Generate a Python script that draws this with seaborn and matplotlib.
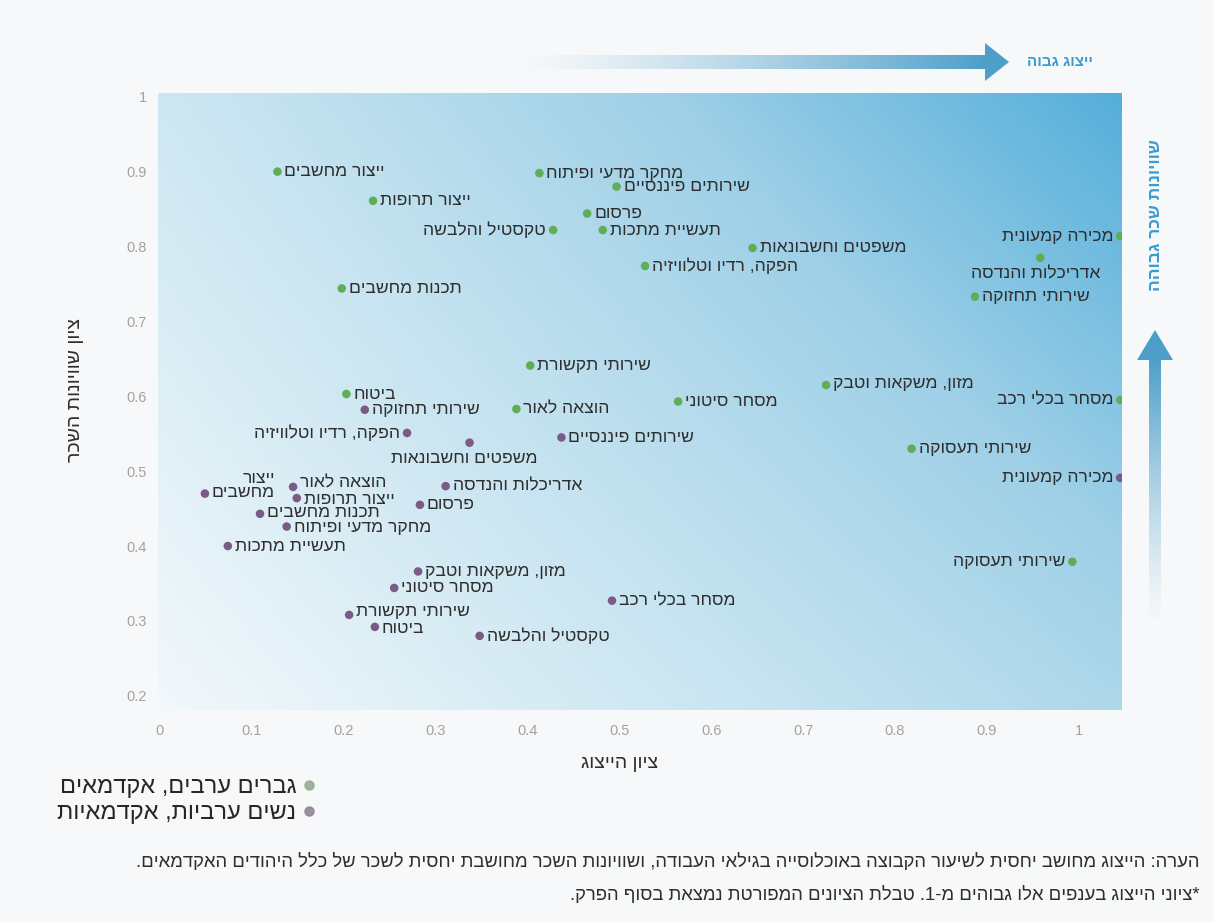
import numpy as np
import pandas as pd
import matplotlib
matplotlib.use("Agg")
import matplotlib.pyplot as plt
import seaborn as sns
from matplotlib.colors import LinearSegmentedColormap, to_rgb
from matplotlib.lines import Line2D
from matplotlib.patches import Polygon

# ---------------- data ----------------
men_labels = ["ייצור מחשבים", "מחקר מדעי ופיתוח", "שירותים פיננסיים", "ייצור תרופות",
              "פרסום", "טקסטיל והלבשה", "תעשיית מתכות", "משפטים וחשבונאות",
              "הפקה, רדיו וטלוויזיה", "מכירה קמעונית", "אדריכלות והנדסה", "שירותי תחזוקה",
              "תכנות מחשבים", "שירותי תקשורת", "ביטוח", "הוצאה לאור", "מסחר סיטוני",
              "מזון, משקאות וטבק", "מסחר בכלי רכב", "שירותי תעסוקה", "שירותי תעסוקה"]
men_x = [0.128, 0.413, 0.497, 0.232, 0.465, 0.428, 0.482, 0.645, 0.528, 1.045, 0.958, 0.887,
         0.198, 0.403, 0.203, 0.388, 0.564, 0.725, 1.045, 0.818, 0.993]
men_y = [0.900, 0.898, 0.880, 0.861, 0.844, 0.822, 0.822, 0.798, 0.774, 0.814, 0.785, 0.733,
         0.744, 0.641, 0.603, 0.583, 0.593, 0.615, 0.595, 0.530, 0.379]

women_labels = ["שירותי תחזוקה", "הפקה, רדיו וטלוויזיה", "משפטים וחשבונאות", "שירותים פיננסיים",
                "אדריכלות והנדסה", "ייצור\nמחשבים", "הוצאה לאור", "ייצור תרופות", "פרסום",
                "תכנות מחשבים", "מחקר מדעי ופיתוח", "תעשיית מתכות", "מזון, משקאות וטבק",
                "מסחר סיטוני", "מסחר בכלי רכב", "שירותי תקשורת", "ביטוח", "טקסטיל והלבשה",
                "מכירה קמעונית"]
women_x = [0.223, 0.269, 0.337, 0.437, 0.311, 0.049, 0.145, 0.149, 0.283, 0.109, 0.138, 0.074,
           0.281, 0.255, 0.492, 0.206, 0.234, 0.348, 1.045]
women_y = [0.582, 0.551, 0.538, 0.545, 0.480, 0.470, 0.479, 0.464, 0.455, 0.443, 0.426, 0.400,
           0.366, 0.344, 0.327, 0.308, 0.292, 0.280, 0.491]

series_names = ["גברים ערבים, אקדמאים", "נשים ערביות, אקדמאיות"]
x_ticks = [0, 0.1, 0.2, 0.3, 0.4, 0.5, 0.6, 0.7, 0.8, 0.9, 1]
y_ticks = [0.2, 0.3, 0.4, 0.5, 0.6, 0.7, 0.8, 0.9, 1]
x_tick_labels = ["0", "0.1", "0.2", "0.3", "0.4", "0.5", "0.6", "0.7", "0.8", "0.9", "1"]
y_tick_labels = ["0.2", "0.3", "0.4", "0.5", "0.6", "0.7", "0.8", "0.9", "1"]

x_title = "ציון הייצוג"
y_title = "ציון שוויונות השכר"
top_note = "ייצוג גבוה"
right_note = "שוויונות שכר גבוהה"
foot1 = "הערה: הייצוג מחושב יחסית לשיעור הקבוצה באוכלוסייה בגילאי העבודה, ושוויונות השכר מחושבת יחסית לשכר של כלל היהודים האקדמאים."
foot2 = "*ציוני הייצוג בענפים אלו גבוהים מ-1. טבלת הציונים המפורטת נמצאת בסוף הפרק."

# label placement (layout only)
men_place = ["r", "r", "r", "r", "r", "l", "r", "r", "r", "l", "b", "r",
             "r", "r", "r", "r", "r", "r", "l", "r", "l"]
women_place = ["r", "l", "b", "r", "r", "r2", "r", "r", "r", "r", "r", "r",
               "r", "r", "r", "r", "r", "r", "l"]
# small vertical nudges (pixels) for crowded labels, by women index
women_nudge = {6: 4, 7: -1, 9: 1, 10: -1, 15: 3, 16: -2}
men_nudge = {17: 2}


def rtl(s):
    return "\n".join(line[::-1] for line in s.split("\n"))


# ---------------- style ----------------
sns.set_theme(style="white")
plt.rcParams["font.family"] = ["Liberation Sans", "DejaVu Sans"]

W, H = 1214, 922
fig = plt.figure(figsize=(W / 100, H / 100), dpi=100)
bg = "#f6f8f9"
fig.patch.set_facecolor(bg)

ax_l, ax_r, ax_t, ax_b = 158, 1122, 93, 710
ax = fig.add_axes([ax_l / W, 1 - ax_b / H, (ax_r - ax_l) / W, (ax_b - ax_t) / H])
ax.set_xlim(-0.002, 1.047)
ax.set_ylim(0.181, 1.005)

# gradient panel
cmap = LinearSegmentedColormap.from_list("panel", ["#f2f8fb", "#c9e5f1", "#9fd0e7", "#55afdb"])
xx, yy = np.meshgrid(np.linspace(0, 1, 300), np.linspace(0, 1, 200))
t = 0.55 * xx + 0.3 * yy + 0.15 * xx * yy
ax.imshow(t, cmap=cmap, extent=[0, 1, 0, 1], transform=ax.transAxes, origin="lower",
          aspect="auto", zorder=0, vmin=0, vmax=1)

green = "#5fae57"
purple = "#7b5b86"

df = pd.DataFrame({
    "x": men_x + women_x,
    "y": men_y + women_y,
    "group": [series_names[0]] * len(men_x) + [series_names[1]] * len(women_x),
})
sns.scatterplot(data=df, x="x", y="y", hue="group", palette=[green, purple], s=38,
                edgecolor="none", ax=ax, zorder=3, legend=False)

label_kw = dict(fontsize=12.6, color="#2e2e2e", zorder=4, textcoords="offset pixels")


def place(lbl, x, y, mode, dy=0):
    if mode == "r":
        ax.annotate(rtl(lbl), (x, y), xytext=(7, dy), ha="left", va="center", **label_kw)
    elif mode == "l":
        ax.annotate(rtl(lbl), (x, y), xytext=(-7, dy), ha="right", va="center", **label_kw)
    elif mode == "b":
        ax.annotate(rtl(lbl), (x, y), xytext=(-5, -16 + dy), ha="center", va="center", **label_kw)
    elif mode == "r2":
        ax.annotate(rtl(lbl), (x, y), xytext=(7, 8 + dy), ha="left", va="center",
                    multialignment="right", linespacing=0.9, **label_kw)


for i, (lbl, x, y, m) in enumerate(zip(men_labels, men_x, men_y, men_place)):
    place(lbl, x, y, m, men_nudge.get(i, 0))
for i, (lbl, x, y, m) in enumerate(zip(women_labels, women_x, women_y, women_place)):
    place(lbl, x, y, m, women_nudge.get(i, 0))

ax.set_xticks(x_ticks)
ax.set_xticklabels(x_tick_labels)
ax.set_yticks(y_ticks)
ax.set_yticklabels(y_tick_labels)
ax.tick_params(axis="both", length=0, labelsize=10.5, colors="#a2a2a2")
ax.tick_params(axis="x", pad=10)
ax.tick_params(axis="y", pad=8)
for sp in ax.spines.values():
    sp.set_visible(False)

ax.set_xlabel(rtl(x_title), fontsize=14, color="#2e2e2e")
ax.xaxis.set_label_coords((620 - ax_l) / (ax_r - ax_l), -(755 - ax_b) / (ax_b - ax_t))
ax.set_ylabel(rtl(y_title), fontsize=14, color="#2e2e2e", rotation=90)
ax.yaxis.set_label_coords((84 - ax_l) / (ax_r - ax_l), (ax_b - 390) / (ax_b - ax_t))

# legend (marker on the right for RTL)
handles = [Line2D([], [], marker="o", ls="", color=c, markersize=6.5, alpha=0.85)
           for c in ["#8faa8c", "#8c7f93"]]
fig.legend(handles, [rtl(s) for s in series_names], markerfirst=False, frameon=False,
           loc="upper left", bbox_to_anchor=(48 / W, 1 - 767 / H), fontsize=17,
           handletextpad=0.2, labelspacing=0.15, handlelength=0.7, borderaxespad=0)

# overlay for decorations, pixel coordinates
ov = fig.add_axes([0, 0, 1, 1], zorder=5)
ov.axis("off")
ov.patch.set_alpha(0)

arrow_col = "#4d9fca"
rgb = to_rgb(arrow_col)
n = 256
h_arr = np.zeros((1, n, 4))
h_arr[..., :3] = rgb
h_arr[0, :, 3] = np.linspace(0, 1, n) ** 1.3
ov.imshow(h_arr, extent=[520, 986, 69, 55], origin="upper", aspect="auto",
          interpolation="bilinear")
ov.add_patch(Polygon([[985, 43], [1009, 62], [985, 81]], closed=True, color=arrow_col, lw=0))
ov.text(1060, 62, rtl(top_note), color="#3a9dcf", fontsize=11, fontweight="bold",
        ha="center", va="center")

v_arr = np.zeros((n, 1, 4))
v_arr[..., :3] = rgb
v_arr[:, 0, 3] = np.linspace(1, 0, n) ** 1.3
ov.imshow(v_arr, extent=[1149, 1161, 625, 359], origin="upper", aspect="auto",
          interpolation="bilinear")
ov.add_patch(Polygon([[1137, 360], [1155, 330], [1173, 360]], closed=True, color=arrow_col, lw=0))
ov.text(1155, 215, rtl(right_note), color="#3a9dcf", fontsize=12.5, fontweight="bold",
        ha="center", va="center", rotation=90)

# footnotes
ov.text(1200, 862, rtl(foot1), fontsize=13.3, color="#2e2e2e", ha="right", va="center")
ov.text(1200, 895, rtl(foot2), fontsize=13.3, color="#2e2e2e", ha="right", va="center")

ov.set_xlim(0, W)
ov.set_ylim(H, 0)

fig.savefig("out.png", dpi=100, facecolor=bg)
